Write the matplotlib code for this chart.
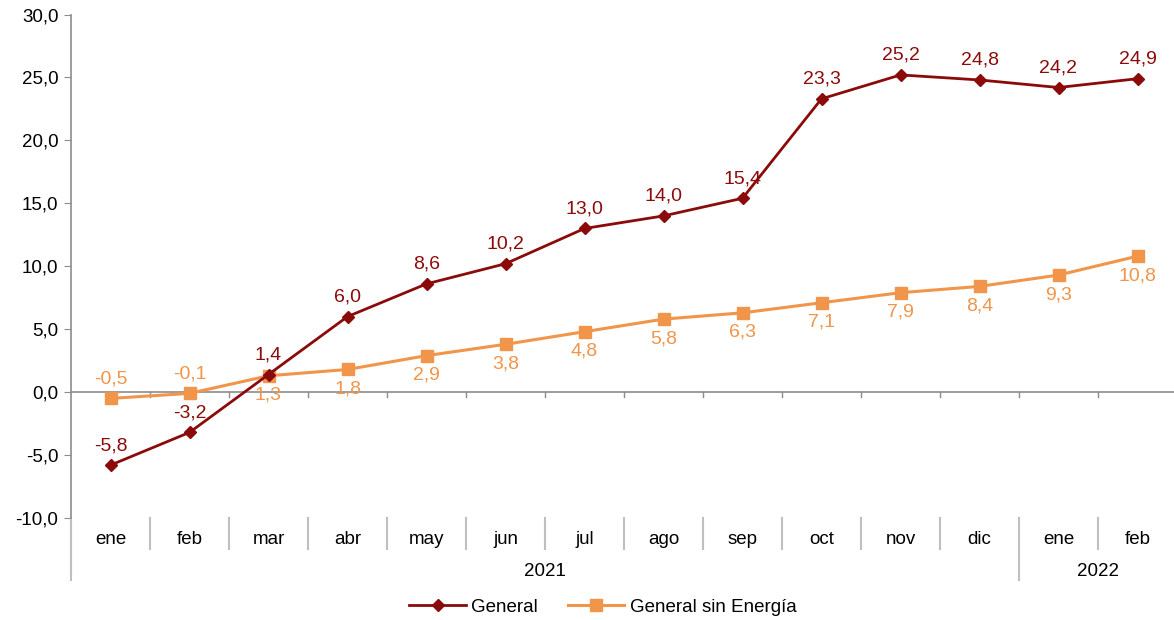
import matplotlib
matplotlib.use("Agg")
import matplotlib.pyplot as plt

plt.rcParams['font.family'] = ['Liberation Sans', 'DejaVu Sans']

months = ['ene', 'feb', 'mar', 'abr', 'may', 'jun', 'jul', 'ago', 'sep',
          'oct', 'nov', 'dic', 'ene', 'feb']
years = ['2021', '2022']
year_counts = [12, 2]
general = [-5.8, -3.2, 1.4, 6.0, 8.6, 10.2, 13.0, 14.0, 15.4, 23.3, 25.2, 24.8, 24.2, 24.9]
sin_energia = [-0.5, -0.1, 1.3, 1.8, 2.9, 3.8, 4.8, 5.8, 6.3, 7.1, 7.9, 8.4, 9.3, 10.8]

c_gen = '#8B0A0A'
c_sin = '#F0954A'
grey = '#8C8C8C'
sep_grey = '#BFBFBF'

fig = plt.figure(figsize=(11.74, 6.2), dpi=100)
W, H = 1174, 620
ax = fig.add_axes([71 / W, 1 - 518 / H, (1177 - 71) / W, (518 - 14.5) / H])

x = list(range(len(months)))
ax.plot(x, general, color=c_gen, lw=2.0, marker='D', ms=6, label='General', zorder=4)
ax.plot(x, sin_energia, color=c_sin, lw=2.2, marker='s', ms=8, label='General sin Energía', zorder=3)

ax.set_xlim(-0.5, len(months) - 0.5)
ax.set_ylim(-10, 30)
ax.set_yticks(range(-10, 31, 5))
ax.set_yticklabels([f'{v:.1f}'.replace('.', ',') for v in range(-10, 31, 5)], fontsize=13.5)
ax.tick_params(axis='y', length=5, color=grey, pad=4)
ax.set_xticks([])

for s in ['top', 'right', 'bottom']:
    ax.spines[s].set_visible(False)
ax.spines['left'].set_color(grey)
ax.spines['left'].set_linewidth(1.2)

# zero line with small ticks
ax.axhline(0, color=grey, lw=1.2, zorder=1)
for b in range(1, len(months)):
    ax.plot([b - 0.5, b - 0.5], [0, -0.35], color=grey, lw=1, zorder=1)

# data labels
fmt = lambda v: f'{v:.1f}'.replace('.', ',')
for i, v in enumerate(general):
    ax.annotate(fmt(v), (i, v), xytext=(0, 8), textcoords='offset points',
                ha='center', va='bottom', color=c_gen, fontsize=14)
for i, v in enumerate(sin_energia):
    if v < 0:
        ax.annotate(fmt(v), (i, v), xytext=(0, 8), textcoords='offset points',
                    ha='center', va='bottom', color=c_sin, fontsize=14)
    else:
        ax.annotate(fmt(v), (i, v), xytext=(0, -8), textcoords='offset points',
                    ha='center', va='top', color=c_sin, fontsize=14)

# category axis below
trans = ax.get_xaxis_transform()
ah = (518 - 14.5)
m_len = -31 / ah
y_len = -62 / ah
year_bounds = [0]
for n in year_counts:
    year_bounds.append(year_bounds[-1] + n)
for b in range(len(months) + 1):
    if b in year_bounds:
        ax.plot([b - 0.5, b - 0.5], [0, y_len], color=sep_grey, lw=1.5,
                transform=trans, clip_on=False)
    else:
        ax.plot([b - 0.5, b - 0.5], [0, m_len], color=sep_grey, lw=1.5,
                transform=trans, clip_on=False)
for i, m in enumerate(months):
    ax.text(i, -21 / ah, m, transform=trans, ha='center', va='center', fontsize=13.5)
for k, yr in enumerate(years):
    mid = (year_bounds[k] + year_bounds[k + 1] - 1) / 2
    ax.text(mid, -53 / ah, yr, transform=trans, ha='center', va='center', fontsize=13.5)

fig.legend(loc='center', bbox_to_anchor=(603 / W, 1 - 607 / H), ncol=2, frameon=False,
           fontsize=13.5, handlelength=3.0, columnspacing=1.6, handletextpad=0.3)

fig.savefig('out.png', dpi=100)
